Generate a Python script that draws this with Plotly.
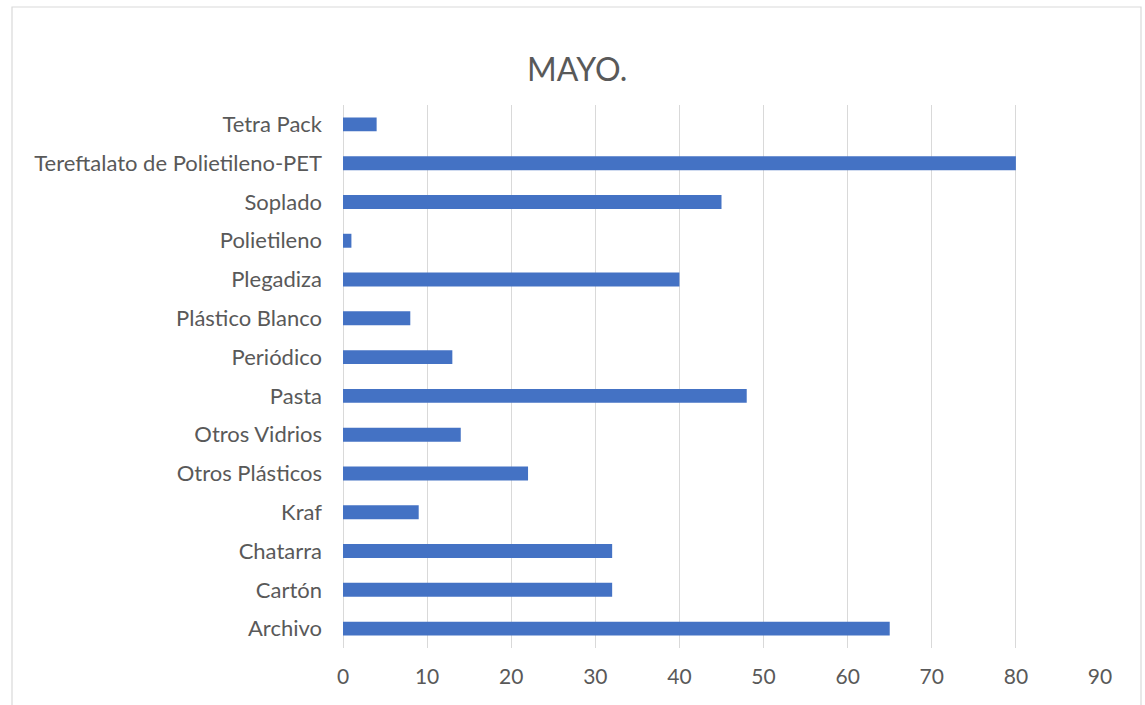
import plotly.graph_objects as go

categories = ["Archivo", "Cartón", "Chatarra", "Kraf", "Otros Plásticos", "Otros Vidrios",
              "Pasta", "Periódico", "Plástico Blanco", "Plegadiza", "Polietileno",
              "Soplado", "Tereftalato de Polietileno-PET", "Tetra Pack"]
values = [65, 32, 32, 9, 22, 14, 48, 13, 8, 40, 1, 45, 80, 4]
x_ticks = [0, 10, 20, 30, 40, 50, 60, 70, 80, 90]

W, H = 1145, 705
L, R, T, B = 343, 1100, 105, 648

fig = go.Figure(go.Bar(
    x=values, y=categories, orientation="h",
    marker=dict(color="#4472C4", line=dict(width=0)),
    width=0.36,
))

font = "Lato, 'Open Sans', sans-serif"
fig.update_layout(
    width=W, height=H,
    margin=dict(l=L, r=W - R, t=T, b=H - B),
    paper_bgcolor="white", plot_bgcolor="white",
    showlegend=False,
    font=dict(family=font, color="#595959", size=22),
    xaxis=dict(range=[0, 90], tickvals=x_ticks, showgrid=True, gridcolor="#d9d9d9",
               gridwidth=1, zeroline=True, zerolinecolor="#d9d9d9", zerolinewidth=1,
               ticks="", ticklabelstandoff=14, tickfont=dict(size=21), fixedrange=True),
    yaxis=dict(categoryorder="array", categoryarray=categories, showgrid=False,
               zeroline=False, ticks="", ticklabelstandoff=20, tickfont=dict(size=22)),
)

def px_x(p):
    return (p - L) / (R - L)

def px_y(p):
    return (B - p) / (B - T)

fig.add_shape(type="rect", xref="paper", yref="paper",
              x0=px_x(12), x1=px_x(1141), y0=px_y(720), y1=px_y(7),
              line=dict(color="#d9d9d9", width=1.2), fillcolor="rgba(0,0,0,0)", layer="below")

fig.add_annotation(text="MAYO.", xref="paper", yref="paper",
                   x=px_x(577), y=px_y(68), showarrow=False,
                   font=dict(size=32, color="#595959", family=font),
                   xanchor="center", yanchor="middle")

fig.write_html("out.html", config={"displayModeBar": False},
               post_script="document.body.style.margin='0';document.body.style.overflow='hidden';")
